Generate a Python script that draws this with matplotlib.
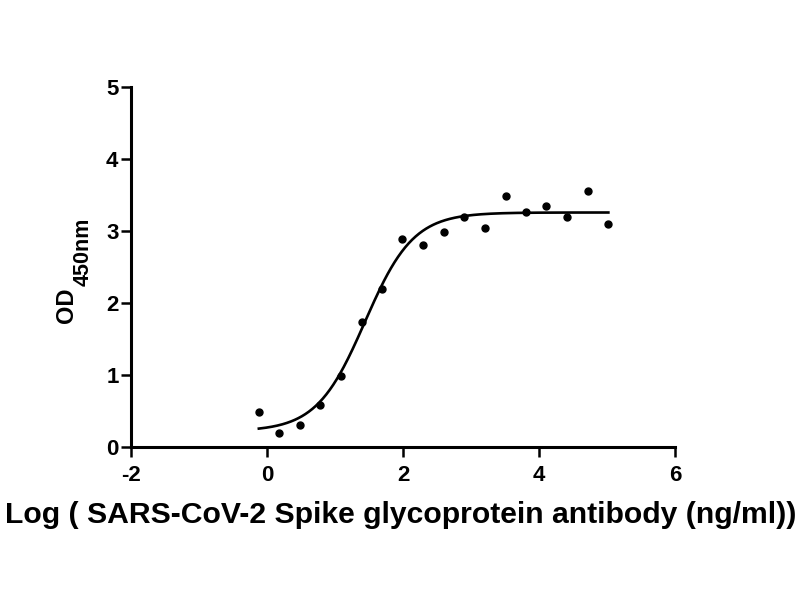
import numpy as np
import matplotlib
matplotlib.use("Agg")
import matplotlib.pyplot as plt

plt.rcParams['font.family'] = ['Liberation Sans', 'DejaVu Sans']
plt.rcParams['font.weight'] = 'bold'
plt.rcParams['axes.unicode_minus'] = False

# Data
log_conc = [-0.12, 0.18, 0.48, 0.78, 1.09, 1.39, 1.69, 1.99, 2.30, 2.60,
            2.90, 3.20, 3.51, 3.81, 4.11, 4.41, 4.72, 5.02]
od450 = [0.49, 0.20, 0.30, 0.59, 0.99, 1.74, 2.20, 2.89, 2.80, 2.98,
         3.19, 3.04, 3.48, 3.27, 3.35, 3.20, 3.56, 3.10]

x_ticks = [-2, 0, 2, 4, 6]
y_ticks = [0, 1, 2, 3, 4, 5]

x = np.array(log_conc)
y = np.array(od450)

# 4-parameter logistic fit (grid over EC50/slope, linear solve for bottom/top)
best = None
for e in np.linspace(0.8, 2.2, 141):
    for h in np.linspace(0.5, 3.0, 126):
        f = 1.0 / (1.0 + 10 ** ((e - x) * h))
        A = np.column_stack([1 - f, f])
        coef, *_ = np.linalg.lstsq(A, y, rcond=None)
        r = np.sum((A @ coef - y) ** 2)
        if best is None or r < best[0]:
            best = (r, e, h, coef)
_, ec50, hill, (bottom, top) = best
xf = np.linspace(x.min(), x.max(), 400)
ff = 1.0 / (1.0 + 10 ** ((ec50 - xf) * hill))
yf = bottom + (top - bottom) * ff

W, H = 800, 600
fig = plt.figure(figsize=(8, 6), dpi=100)
ax = fig.add_axes([131 / W, 1 - 447 / H, (675 - 131) / W, (447 - 87) / H])
ax.plot(xf, yf, color='black', lw=1.9)
ax.plot(x, y, 'o', color='black', ms=5, clip_on=False)

ax.set_xlim(-2, 6)
ax.set_ylim(0, 5)
ax.set_xticks(x_ticks)
ax.set_yticks(y_ticks)
ax.spines['top'].set_visible(False)
ax.spines['right'].set_visible(False)
for s in ['left', 'bottom']:
    ax.spines[s].set_linewidth(2.2)
ax.tick_params(width=1.8, length=7, labelsize=16, direction='out')
ax.tick_params(axis='x', pad=6)
ax.tick_params(axis='y', pad=2)
for lab in ax.get_xticklabels() + ax.get_yticklabels():
    lab.set_fontweight('bold')

fig.text(401 / W, 1 - 523 / H,
         'Log ( SARS-CoV-2 Spike glycoprotein antibody (ng/ml))',
         fontsize=21.7, fontweight='bold', ha='center', va='baseline')

# y label: OD with subscript 450nm
fig.text(73 / W, 1 - 323 / H, 'OD', rotation=90, rotation_mode='anchor',
         ha='left', va='baseline', fontsize=17, fontweight='bold')
fig.text(89 / W, 1 - 286 / H, '450nm', rotation=90, rotation_mode='anchor',
         ha='left', va='baseline', fontsize=15.5, fontweight='bold')

fig.savefig('out.png', dpi=100)
